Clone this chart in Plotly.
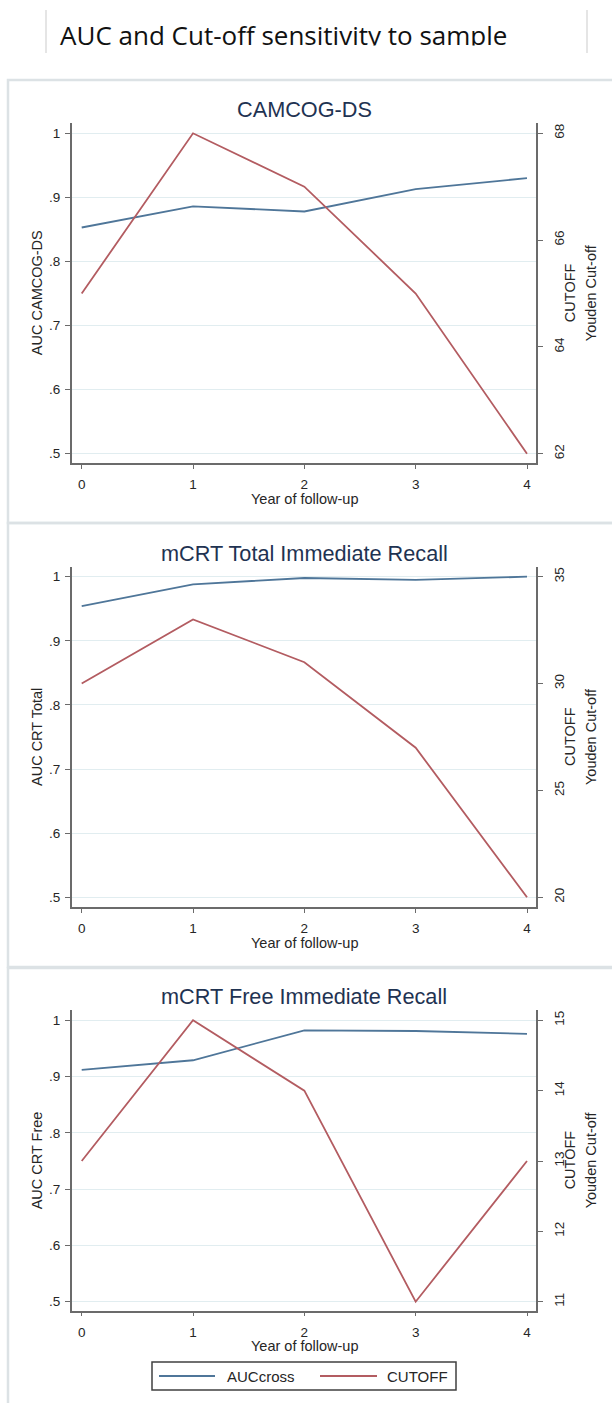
import plotly.graph_objects as go

# ---- data -------------------------------------------------------------
years = [0, 1, 2, 3, 4]

panel_titles = ["CAMCOG-DS", "mCRT Total Immediate Recall", "mCRT Free Immediate Recall"]
auc_axis_titles = ["AUC CAMCOG-DS", "AUC CRT Total", "AUC CRT Free"]
series_names = ["AUCcross", "CUTOFF"]

camcog_auc = [0.853, 0.886, 0.878, 0.913, 0.930]
camcog_cutoff = [65, 68, 67, 65, 62]

total_auc = [0.954, 0.988, 0.998, 0.995, 1.000]
total_cutoff = [30, 33, 31, 27, 20]

free_auc = [0.912, 0.929, 0.982, 0.981, 0.976]
free_cutoff = [13, 15, 14, 11, 13]

auc_ticks = [0.5, 0.6, 0.7, 0.8, 0.9, 1.0]
auc_ticktext = [".5", ".6", ".7", ".8", ".9", "1"]
cutoff_ticks = [[62, 64, 66, 68], [20, 25, 30, 35], [11, 12, 13, 14, 15]]
cutoff_span = [(62, 68), (20, 35), (11, 15)]  # cutoff values aligned with AUC .5 and 1

auc_series = [camcog_auc, total_auc, free_auc]
cutoff_series = [camcog_cutoff, total_cutoff, free_cutoff]

# ---- page geometry (pixels) ------------------------------------------
W, H = 612, 1403
BLUE = "#4f7699"
RED = "#b35c61"
AXC = "#6b6b6b"
GRID = "#e1edf0"
BORDER = "#dce2e5"
TXT = "#262626"
FONT = "Liberation Sans"

def fx(px):
    return px / W

def fy(py):
    return 1 - py / H

X_LEFT, X_RIGHT = 71.7, 536.0      # axis lines
X_T0, X_T4 = 81.7, 527.0           # positions of year 0 and year 4
x_per = (X_T4 - X_T0) / 4
x_range = [0 - (X_T0 - X_LEFT) / x_per, 4 + (X_RIGHT - X_T4) / x_per]

panels = [
    dict(top=123.3, bottom=463.0, one=133.3, half=453.7, title_y=109.3, box=(80, 523)),
    dict(top=566.7, bottom=907.3, one=576.7, half=897.3, title_y=553.3, box=(523, 967)),
    dict(top=1010.0, bottom=1310.7, one=1020.3, half=1301.7, title_y=996.7, box=(968, 1440)),
]

fig = go.Figure()
layout = dict(
    width=W, height=H,
    margin=dict(l=0, r=0, t=0, b=0),
    paper_bgcolor="white", plot_bgcolor="white",
    font=dict(family=FONT, size=14, color=TXT),
    showlegend=False,
)
annotations = []
shapes = []

for i, p in enumerate(panels):
    xa = "x" if i == 0 else f"x{i + 1}"
    yl_n, yr_n = 2 * i + 1, 2 * i + 2
    yl = "y" if yl_n == 1 else f"y{yl_n}"
    yr = f"y{yr_n}"

    per = (p["half"] - p["one"]) / 0.5
    lo = 0.5 - (p["bottom"] - p["half"]) / per
    hi = 1.0 + (p["one"] - p["top"]) / per
    cmin, cmax = cutoff_span[i]
    conv = lambda v: cmin + (v - 0.5) * (cmax - cmin) / 0.5

    fig.add_trace(go.Scatter(
        x=years, y=auc_series[i], xaxis=xa, yaxis=yl, mode="lines",
        line=dict(color=BLUE, width=1.8), name=series_names[0], hoverinfo="x+y"))
    fig.add_trace(go.Scatter(
        x=years, y=cutoff_series[i], xaxis=xa, yaxis=yr, mode="lines",
        line=dict(color=RED, width=1.8), name=series_names[1], hoverinfo="x+y"))

    xkey = "xaxis" if i == 0 else f"xaxis{i + 1}"
    ylkey = "yaxis" if yl_n == 1 else f"yaxis{yl_n}"
    yrkey = f"yaxis{yr_n}"
    dom_y = [fy(p["bottom"]), fy(p["top"])]

    layout[xkey] = dict(
        domain=[fx(X_LEFT), fx(X_RIGHT)], range=x_range, anchor=yl,
        tickvals=years, ticks="outside", ticklen=4, tickwidth=1.2, tickcolor=AXC,
        showline=True, linecolor=AXC, linewidth=1.5, showgrid=False, zeroline=False,
        tickfont=dict(size=13.5, color=TXT), ticklabelstandoff=4, fixedrange=True)
    layout[ylkey] = dict(
        domain=dom_y, range=[lo, hi], anchor=xa,
        tickvals=auc_ticks, ticktext=auc_ticktext, ticks="outside", ticklen=5,
        tickwidth=1.2, tickcolor=AXC, showline=True, linecolor=AXC, linewidth=1.5,
        showgrid=True, gridcolor=GRID, gridwidth=1.2, zeroline=False,
        tickfont=dict(size=13.5, color=TXT), ticklabelstandoff=2, fixedrange=True)
    layout[yrkey] = dict(
        overlaying=yl, side="right", anchor=xa, range=[conv(lo), conv(hi)],
        tickvals=cutoff_ticks[i], ticks="outside", ticklen=5, tickwidth=1.2,
        tickcolor=AXC, showline=True, linecolor=AXC, linewidth=1.5,
        showgrid=False, zeroline=False, tickangle=-90, ticklabelstandoff=5,
        tickfont=dict(size=13.5, color=TXT), fixedrange=True)

    mid_y = (p["top"] + p["bottom"]) / 2
    annotations += [
        dict(text=panel_titles[i], x=fx(304), y=fy(p["title_y"]), xref="paper", yref="paper",
             showarrow=False, xanchor="center", yanchor="middle",
             font=dict(size=21.7, color="#1f3352", family=FONT)),
        dict(text=auc_axis_titles[i], x=fx(37), y=fy(mid_y), xref="paper", yref="paper",
             showarrow=False, textangle=-90, xanchor="center", yanchor="middle",
             font=dict(size=14.5, color=TXT, family=FONT)),
        dict(text="CUTOFF", x=fx(570), y=fy(mid_y), xref="paper", yref="paper",
             showarrow=False, textangle=-90, xanchor="center", yanchor="middle",
             font=dict(size=14.5, color=TXT, family=FONT)),
        dict(text="Youden Cut-off", x=fx(591), y=fy(mid_y), xref="paper", yref="paper",
             showarrow=False, textangle=-90, xanchor="center", yanchor="middle",
             font=dict(size=14.5, color=TXT, family=FONT)),
        dict(text="Year of follow-up", x=fx(304), y=fy(p["bottom"] + 35.5), xref="paper",
             yref="paper", showarrow=False, xanchor="center", yanchor="middle",
             font=dict(size=14.5, color=TXT, family=FONT)),
    ]
    b0, b1 = p["box"]
    shapes.append(dict(type="rect", xref="paper", yref="paper",
                       x0=fx(8), x1=fx(640), y0=fy(b1), y1=fy(b0),
                       line=dict(color=BORDER, width=2.5), fillcolor="rgba(0,0,0,0)",
                       layer="below"))

# ---- key below the last panel ----------------------------------------
KEY_TOP, KEY_BOT, KEY_L, KEY_R = 1362, 1390, 152, 456
key_mid = (KEY_TOP + KEY_BOT) / 2
shapes.append(dict(type="rect", xref="paper", yref="paper",
                   x0=fx(KEY_L), x1=fx(KEY_R), y0=fy(KEY_BOT), y1=fy(KEY_TOP),
                   line=dict(color="#404040", width=1.5), fillcolor="white"))
for (lx0, lx1, tx), color, name in zip([(159, 215, 225), (320, 377, 385)], [BLUE, RED], series_names):
    shapes.append(dict(type="line", xref="paper", yref="paper",
                       x0=fx(lx0), x1=fx(lx1), y0=fy(key_mid), y1=fy(key_mid),
                       line=dict(color=color, width=1.8)))
    annotations.append(dict(text=name, x=fx(tx), y=fy(key_mid), xref="paper", yref="paper",
                            showarrow=False, xanchor="left", yanchor="middle",
                            font=dict(size=15, color=TXT, family=FONT)))

# ---- heading strip: text clipped along its lower edge by its own plot area
fig.add_trace(go.Scatter(
    x=[60], y=[38.8], xaxis="x4", yaxis="y7", mode="text",
    text=["AUC and Cut-off sensitivity to sample"], textposition="middle right",
    textfont=dict(family="Open Sans", size=26, color="#111111"),
    cliponaxis=True, showlegend=False, hoverinfo="skip"))
layout["xaxis4"] = dict(domain=[0, 1], range=[0, W], visible=False, fixedrange=True, anchor="y7")
layout["yaxis7"] = dict(domain=[fy(45.5), 1], range=[45.5, 0], visible=False, fixedrange=True, anchor="x4")

for xv in (46, 587):
    shapes.append(dict(type="line", xref="paper", yref="paper",
                       x0=fx(xv), x1=fx(xv), y0=fy(53), y1=fy(10),
                       line=dict(color="#dcdcdc", width=1.5)))

layout["annotations"] = annotations
layout["shapes"] = shapes

fig.update_layout(**layout)
fig.write_html("out.html")
